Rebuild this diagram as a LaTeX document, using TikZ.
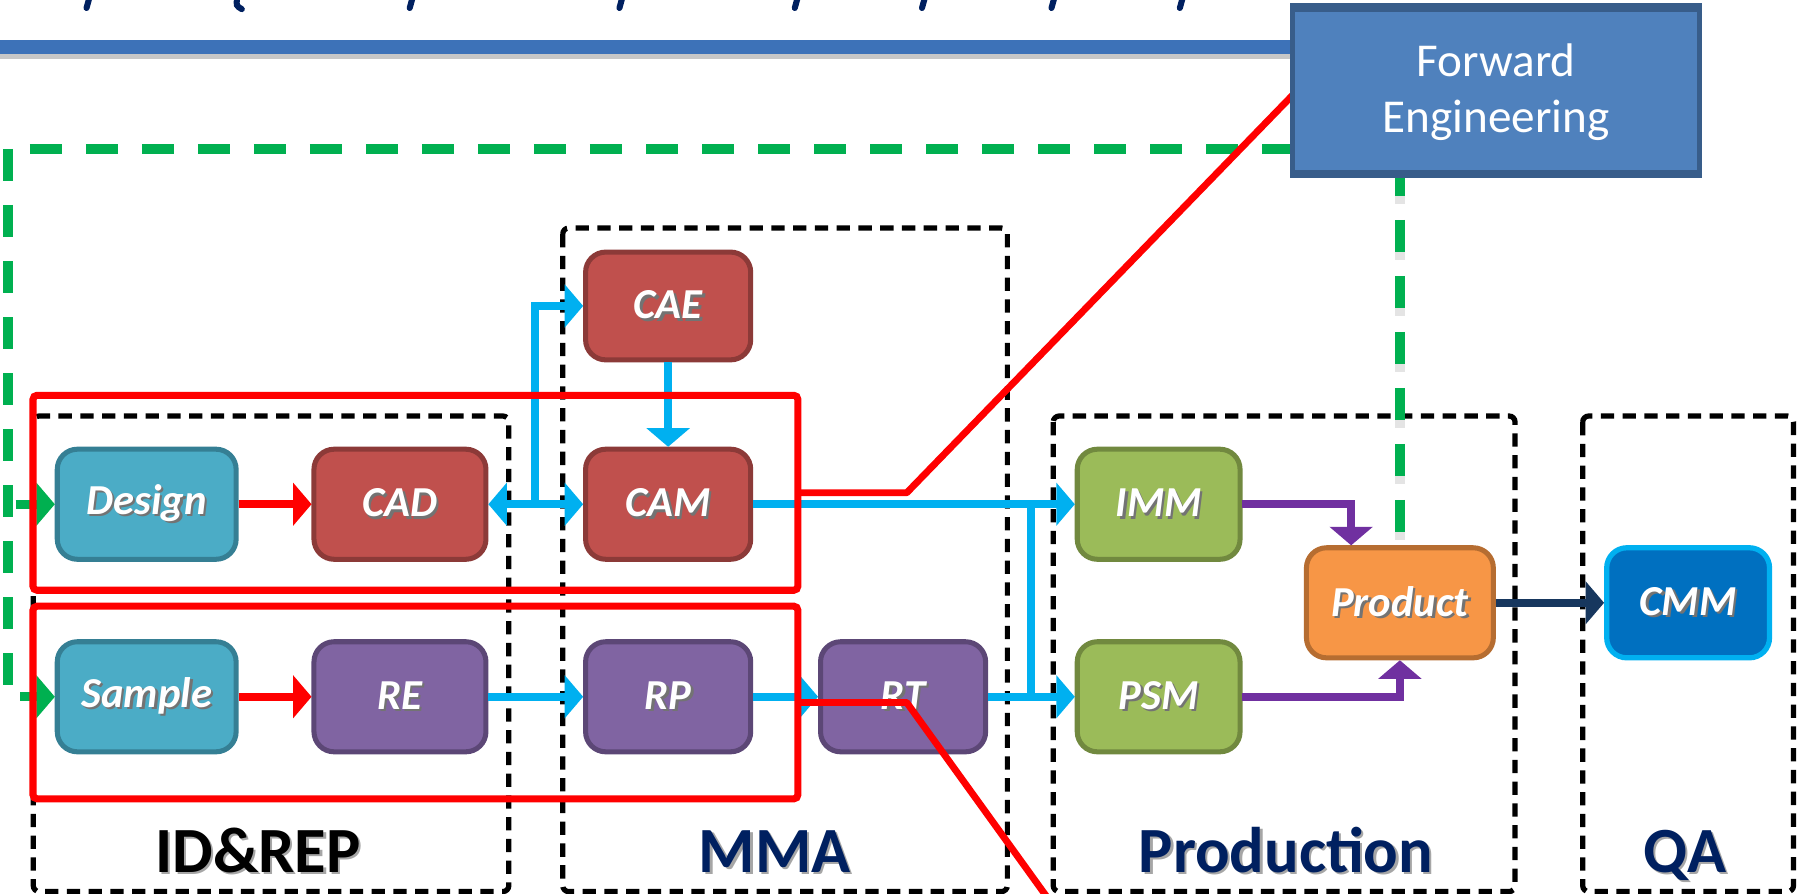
\documentclass[tikz,border=0pt]{standalone}
\usepackage{fontspec}
\setmainfont{Carlito}
\usetikzlibrary{arrows.meta}
\definecolor{cTeal}{HTML}{4BACC6}
\definecolor{cTealD}{HTML}{357F94}
\definecolor{cRed}{HTML}{C0504D}
\definecolor{cRedD}{HTML}{8C3A38}
\definecolor{cPur}{HTML}{8064A2}
\definecolor{cPurD}{HTML}{5C4776}
\definecolor{cGrn}{HTML}{9BBB59}
\definecolor{cGrnD}{HTML}{71893F}
\definecolor{cOrg}{HTML}{F79646}
\definecolor{cOrgD}{HTML}{B66D31}
\definecolor{cCmm}{HTML}{0070C0}
\definecolor{cSky}{HTML}{00B0F0}
\definecolor{cViolet}{HTML}{7030A0}
\definecolor{cNavy}{HTML}{17375E}
\definecolor{cFE}{HTML}{4F81BD}
\definecolor{cFED}{HTML}{385D8A}
\definecolor{cGreen}{HTML}{00B050}
\definecolor{cTitle}{HTML}{002060}
\definecolor{cRule}{HTML}{3D72B8}
\definecolor{cRedLine}{HTML}{FF0000}
\newcommand\shtxt[2][black!55]{\leavevmode\rlap{\kern0.6pt\raisebox{-0.6pt}{\textcolor{#1}{#2}}}#2}
\begin{document}
\begin{tikzpicture}[x=0.01cm,y=-0.01cm,
  >={Triangle[length=4.6pt,width=10.5pt]},
  box/.style={rounded corners=5pt,line width=1.25pt,minimum height=0.96cm,inner sep=0pt,outer sep=0.6pt,text=white,font=\fontsize{10.6}{12}\selectfont\bfseries\itshape},
  tealbox/.style={box,fill=cTeal,draw=cTealD,minimum width=1.56cm},
  redbox/.style={box,fill=cRed,draw=cRedD,minimum width=1.44cm},
  purbox/.style={box,fill=cPur,draw=cPurD,minimum width=1.44cm},
  grnbox/.style={box,fill=cGrn,draw=cGrnD,minimum width=1.42cm},
  orgbox/.style={box,fill=cOrg,draw=cOrgD,minimum width=1.63cm},
  cmmbox/.style={box,fill=cCmm,draw=cSky,line width=1.3pt,outer sep=0.65pt,minimum width=1.42cm},
  febox/.style={fill=cFE,draw=cFED,line width=1.2pt,minimum width=3.55cm,minimum height=1.45cm,inner sep=0pt,outer sep=0pt,text=white,align=center,font=\fontsize{11.7}{13.8}\selectfont},
  regionbox/.style={draw=black,line width=1.3pt,dash pattern=on 3.3pt off 2.1pt,rounded corners=1.5pt},
  redframe/.style={draw=cRedLine,line width=1.75pt,rounded corners=1pt,inner sep=0pt,outer sep=0pt,minimum width=6.67cm},
  redline/.style={draw=cRedLine,line width=1.7pt,line join=round},
  conn/.style={line width=2pt,->},
  redarr/.style={conn,draw=cRedLine},
  bluearr/.style={conn,draw=cSky},
  blueline/.style={line width=2pt,draw=cSky},
  purarr/.style={conn,draw=cViolet},
  navyarr/.style={conn,draw=cNavy},
  greendash/.style={draw=cGreen,line width=2.3pt,dash pattern=on 8pt off 5.9pt},
  greenshadow/.style={draw=black!30,line width=2.3pt,dash pattern=on 8pt off 5.9pt,opacity=0.35},
  lbl/.style={anchor=base,inner sep=0pt,font=\fontsize{16}{19}\selectfont\bfseries,text=cTitle},
  titlebit/.style={draw=cTitle,line width=1.5pt,line cap=round}
]
\useasboundingbox (0,0) rectangle (1568,780);

% anchor holder for the forward engineering box (drawn on top later)
\path (1305.5,77.5) node[febox,draw=none,fill=none] (fe) {};

% cut-off title fragments
\foreach \x in {76,358,541,694,805,918,1030} \draw[titlebit] (\x+2,-2) -- (\x-0.5,7);
\draw[titlebit] (207,-2) .. controls (206,5) .. (211,8);

% title rule
\draw[black!22,line width=1.4pt] (0,49) -- (fe.west |- 0,49);
\draw[cRule,line width=3.3pt] (0,41) -- (fe.west |- 0,41);

% region boxes
\draw[regionbox] (29,363) rectangle (444,778);
\draw[regionbox] (491,199) rectangle (879,778);
\draw[regionbox] (919,363) rectangle (1322,778);
\draw[regionbox] (1381,363) rectangle (1565,778);

% nodes
\node[tealbox] (design) at (128,440) {\shtxt{Design}};
\node[tealbox] (sample) at (128,608) {\shtxt{Sample}};
\node[redbox,minimum width=1.50cm] (cad) at (349,440) {\shtxt{CAD}};
\node[redbox] (cam) at (583,440) {\shtxt{CAM}};
\node[redbox,minimum height=0.94cm] (cae) at (583,267) {\shtxt{CAE}};
\node[purbox,minimum width=1.50cm] (re) at (349,608) {\shtxt{RE}};
\node[purbox] (rp) at (583,608) {\shtxt{RP}};
\node[purbox] (rt) at (788,608) {\shtxt{RT}};
\node[grnbox] (imm) at (1011,440) {\shtxt{IMM}};
\node[grnbox] (psm) at (1011,608) {\shtxt{PSM}};
\node[orgbox] (product) at (1221.5,526) {\shtxt{Product}};
\node[cmmbox] (cmm) at (1473,526) {\shtxt{CMM}};

% green dashed feedback
\coordinate (g0) at (7,130);
\begin{scope}[yshift=-0.02cm,xshift=0.01cm]
\draw[greenshadow,dash phase=8.5pt] (g0) -- (fe.west |- g0);
\draw[greenshadow] (product.north |- fe.south) -- (product.north);
\end{scope}
\draw[greendash,dash phase=8.5pt] (g0) -- (fe.west |- g0);
\draw[greendash,->] (g0) |- (sample.west);
\draw[greendash,->,dash phase=12pt] (g0 |- design.west) -- (design.west);
\draw[greendash,dash phase=2pt] (product.north |- fe.south) -- (product.north);

% connectors
\draw[redarr] (design) -- (cad);
\draw[redarr] (sample) -- (re);
\draw[bluearr,<->] (cad) -- (cam);
\coordinate (j1) at (467,440);
\draw[bluearr] (j1) |- (cae.west);
\draw[bluearr] (cae) -- (cam);
\draw[bluearr] (cam) -- (imm);
\draw[bluearr] (re) -- (rp);
\draw[bluearr] (rp) -- (rt);
\draw[bluearr] (rt) -- (psm);
\coordinate (j2) at (900,440);
\coordinate (j3) at (900,608);
\draw[blueline] (j2) -- (j3);
\draw[purarr] (imm.east) -| ([xshift=-0.425cm]product.north);
\draw[purarr] (psm.east) -| (product.south);
\draw[navyarr] (product) -- (cmm);

% red frames and leader lines
\node[redframe,minimum height=1.70cm] (rf1) at (362.5,430) {};
\node[redframe,minimum height=1.68cm] (rf2) at (362.5,613) {};
\coordinate (r2end) at (913,782);
\draw[redline] (rf1.east) -- ++(95,0) -- ([yshift=-0.055cm]fe.west);
\draw[redline] (rf2.east) -- ++(95,0) -- (r2end);

% forward engineering box on top
\node[febox] (fe2) at ([yshift=-0.03cm]fe.center) {Forward\\Engineering};
\draw[cFED,line width=1.2pt] (fe.south west) rectangle (fe.north east);

% region labels
\node[lbl,text=black] (lid) at (225,761) {\shtxt[black!35]{ID\&REP}};
\node[lbl] (lmma) at (676,761) {\shtxt[black!35]{MMA}};
\node[lbl] (lprod) at (1122,761) {\shtxt[black!35]{Production}};
\node[lbl] (lqa) at (1470,761) {\shtxt[black!35]{QA}};
\end{tikzpicture}
\end{document}
